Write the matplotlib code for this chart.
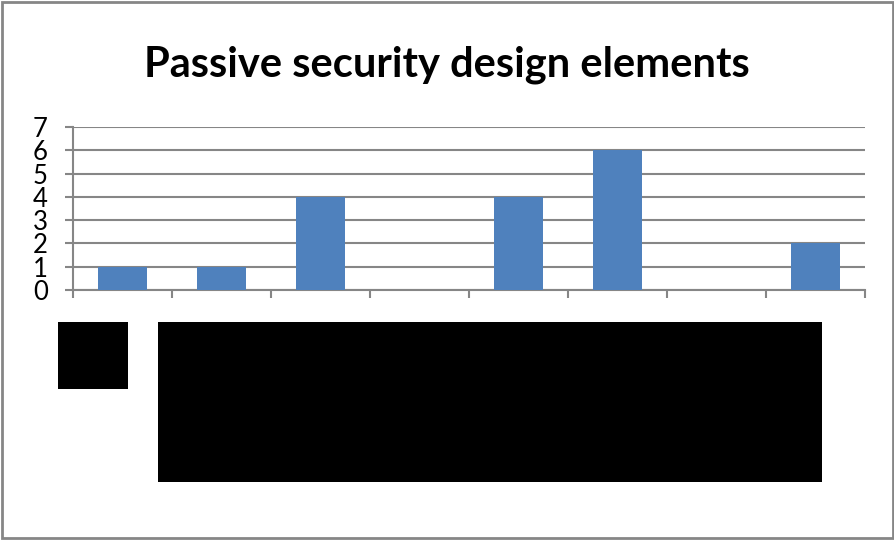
import matplotlib
matplotlib.use("Agg")
import matplotlib.pyplot as plt
from matplotlib.patches import Rectangle
import numpy as np

TITLE = "Passive security design elements"
# category labels are blacked out in the source image
categories = ["", "", "", "", "", "", "", ""]
counts = [1, 1, 4, 0, 4, 6, 0, 2]
y_ticks = [0, 1, 2, 3, 4, 5, 6, 7]

W, H = 895, 540
BAR = "#4F81BD"
GRID = "#868686"

plt.rcParams["font.family"] = ["Lato", "DejaVu Sans"]


def fig_rect(x0, y0, x1, y1):
    # pixel box (top-left origin) -> figure fraction rectangle
    return (x0 / W, 1 - y1 / H), (x1 - x0) / W, (y1 - y0) / H


fig = plt.figure(figsize=(W / 100, H / 100), dpi=100)
fig.patch.set_facecolor("white")

(ax_x, ax_y), ax_w, ax_h = fig_rect(73, 127, 865, 290)
ax = fig.add_axes([ax_x, ax_y, ax_w, ax_h])

x = np.arange(len(counts))
ax.bar(x, counts, width=0.5, color=BAR, zorder=3)

ax.set_xlim(-0.5, len(counts) - 0.5)
ax.set_ylim(0, 7)
ax.set_yticks(y_ticks)
ax.set_yticklabels([str(v) for v in y_ticks], fontsize=18.5)
ax.yaxis.grid(True, color=GRID, linewidth=1.5, zorder=0)
ax.set_axisbelow(True)

# x ticks sit between categories, labels are hidden
ax.set_xticks(np.arange(len(counts) + 1) - 0.5)
ax.set_xticklabels([])
ax.tick_params(axis="x", length=6, width=1.5, color=GRID)
ax.tick_params(axis="y", length=6, width=1.5, color=GRID, pad=12)

for side in ("top", "right"):
    ax.spines[side].set_visible(False)
for side in ("left", "bottom"):
    ax.spines[side].set_color(GRID)
    ax.spines[side].set_linewidth(1.5)

fig.text(447 / W, 1 - 65 / H, TITLE, ha="center", va="center",
         fontsize=30, fontweight="bold")

# redaction boxes over the category labels
for box in [(58, 322, 128, 389), (158, 322, 822, 482)]:
    xy, w, h = fig_rect(*box)
    fig.add_artist(Rectangle(xy, w, h, transform=fig.transFigure,
                             facecolor="black", edgecolor="none"))

# chart frame
xy, w, h = fig_rect(2, 2, 893, 538)
fig.add_artist(Rectangle(xy, w, h, transform=fig.transFigure,
                         facecolor="none", edgecolor=GRID, linewidth=2))

fig.savefig("out.png", dpi=100)
